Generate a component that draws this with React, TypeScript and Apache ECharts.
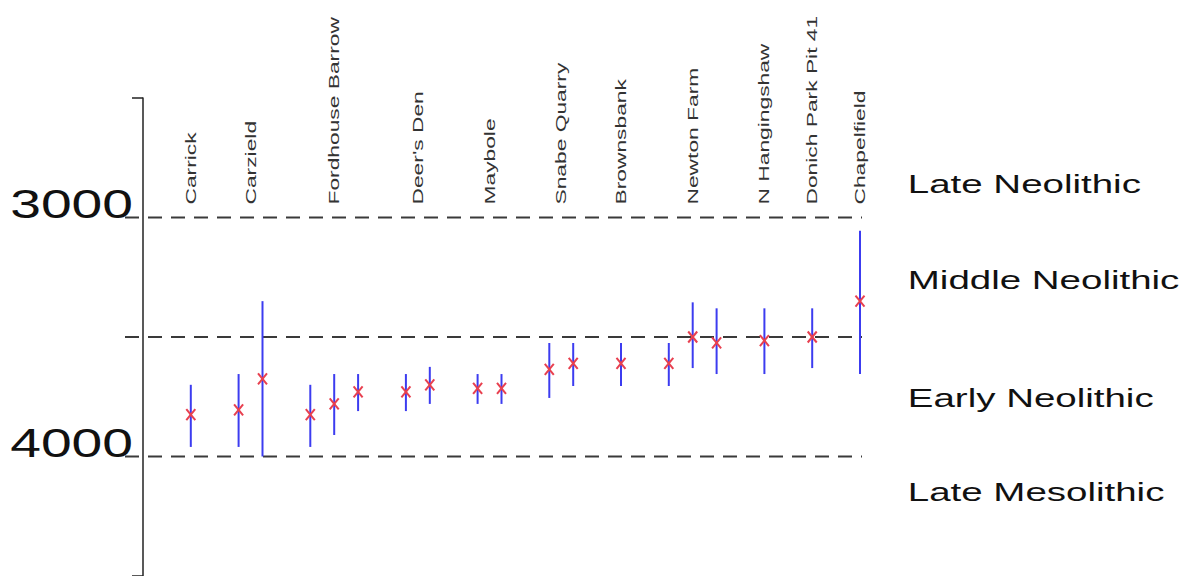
import React, { useEffect, useRef } from "react";
import * as echarts from "echarts";

// Sites (label positions along the horizontal slot scale)
const siteNames = [
  "Carrick",
  "Carzield",
  "Fordhouse Barrow",
  "Deer's Den",
  "Maybole",
  "Snabe Quarry",
  "Brownsbank",
  "Newton Farm",
  "N Hangingshaw",
  "Donich Park Pit 41",
  "Chapelfield",
];
const sitePositions = [2, 4.5, 8, 11.5, 14.5, 17.5, 20, 23, 26, 28, 30];

// Radiocarbon dates (cal BC): slot position, midpoint, younger end, older end
const datePositions = [2, 4, 5, 7, 8, 9, 11, 12, 14, 15, 17, 18, 20, 22, 23, 24, 26, 28, 30];
const dateMid = [3825, 3805, 3675, 3825, 3780, 3730, 3730, 3700, 3715, 3715, 3635, 3610, 3610, 3610, 3500, 3525, 3515, 3500, 3350];
const dateYoung = [3700, 3655, 3350, 3700, 3655, 3655, 3655, 3625, 3655, 3655, 3525, 3525, 3525, 3525, 3355, 3380, 3380, 3380, 3055];
const dateOld = [3960, 3960, 4000, 3960, 3910, 3810, 3810, 3780, 3780, 3780, 3755, 3705, 3705, 3705, 3630, 3655, 3655, 3630, 3655];

// Period boundaries and labels
const boundaryYears = [3000, 3500, 4000];
const yTickLabels = [3000, 4000];
const periodNames = ["Late Neolithic", "Middle Neolithic", "Early Neolithic", "Late Mesolithic"];
const periodLabelYears = [2860, 3260, 3755, 4150];
const periodLabelX = 32;

const FONT = "'Liberation Sans', Arial, sans-serif";

export default function App() {
  const ref = useRef<HTMLDivElement>(null);

  useEffect(() => {
    const chart = echarts.init(ref.current as HTMLDivElement, null, { renderer: "svg" });

    const textStyle = (text: string, size: number, align: string, fill: string) => ({
      text,
      fontSize: size,
      fontFamily: FONT,
      fill,
      align,
      textAlign: align,
      verticalAlign: "middle",
      textVerticalAlign: "middle",
    });

    chart.setOption({
      animation: false,
      backgroundColor: "#ffffff",
      grid: { left: 143, top: 98, width: 717, height: 478, containLabel: false },
      xAxis: { type: "value", min: 0, max: 30, show: false },
      yAxis: {
        type: "value",
        inverse: true,
        min: 2500,
        max: 4500,
        interval: 2000,
        axisLine: { show: true, lineStyle: { color: "#222", width: 1.5 } },
        axisTick: { show: true, length: 11, lineStyle: { color: "#222", width: 1.5 } },
        axisLabel: { show: false },
        splitLine: { show: false },
      },
      series: [
        {
          type: "custom",
          name: "boundaries",
          z: 1,
          data: boundaryYears.map((v) => [0, v]),
          renderItem: (params: any, api: any) => {
            const y = api.coord([0, api.value(1)])[1];
            const cs = params.coordSys;
            return {
              type: "line",
              shape: { x1: cs.x - 18, y1: y, x2: cs.x + cs.width + 2, y2: y },
              style: { stroke: "#3a3a3a", lineWidth: 1.8, lineDash: [14, 9] },
            };
          },
        },
        {
          type: "custom",
          name: "ranges",
          z: 2,
          data: datePositions.map((x, i) => [x, dateYoung[i], dateOld[i]]),
          renderItem: (params: any, api: any) => {
            const p1 = api.coord([api.value(0), api.value(1)]);
            const p2 = api.coord([api.value(0), api.value(2)]);
            return {
              type: "line",
              shape: { x1: p1[0], y1: p1[1], x2: p2[0], y2: p2[1] },
              style: { stroke: "#3c3cf0", lineWidth: 2 },
            };
          },
        },
        {
          type: "custom",
          name: "midpoints",
          z: 3,
          data: datePositions.map((x, i) => [x, dateMid[i]]),
          renderItem: (params: any, api: any) => {
            const p = api.coord([api.value(0), api.value(1)]);
            const hw = 4.5;
            const hh = 5.5;
            const st = { stroke: "#e8404f", lineWidth: 2 };
            return {
              type: "group",
              children: [
                { type: "line", shape: { x1: p[0] - hw, y1: p[1] - hh, x2: p[0] + hw, y2: p[1] + hh }, style: st },
                { type: "line", shape: { x1: p[0] + hw, y1: p[1] - hh, x2: p[0] - hw, y2: p[1] + hh }, style: st },
              ],
            };
          },
        },
        {
          type: "custom",
          name: "sites",
          z: 4,
          data: sitePositions.map((x) => [x, 3000]),
          renderItem: (params: any, api: any) => {
            const p = api.coord([api.value(0), api.value(1)]);
            return {
              type: "text",
              x: p[0],
              y: p[1] - 13,
              rotation: Math.PI / 2,
              scaleX: 1.52,
              style: textStyle(siteNames[params.dataIndex], 15, "left", "#333"),
            };
          },
        },
        {
          type: "custom",
          name: "yLabels",
          z: 4,
          data: yTickLabels.map((v) => [0, v]),
          renderItem: (params: any, api: any) => {
            const y = api.coord([0, api.value(1)])[1];
            const cs = params.coordSys;
            return {
              type: "text",
              x: cs.x - 10,
              y: y - 14,
              scaleX: 1.38,
              style: textStyle(String(yTickLabels[params.dataIndex]), 40, "right", "#111"),
            };
          },
        },
        {
          type: "custom",
          name: "periods",
          z: 4,
          data: periodLabelYears.map((v) => [periodLabelX, v]),
          renderItem: (params: any, api: any) => {
            const p = api.coord([api.value(0), api.value(1)]);
            return {
              type: "text",
              x: p[0],
              y: p[1],
              scaleX: 1.48,
              style: textStyle(periodNames[params.dataIndex], 26, "left", "#111"),
            };
          },
        },
      ],
    });

    return () => chart.dispose();
  }, []);

  return (
    <div
      ref={ref}
      style={{ position: "fixed", left: 0, top: 0, width: 1189, height: 576, background: "#fff" }}
    />
  );
}
